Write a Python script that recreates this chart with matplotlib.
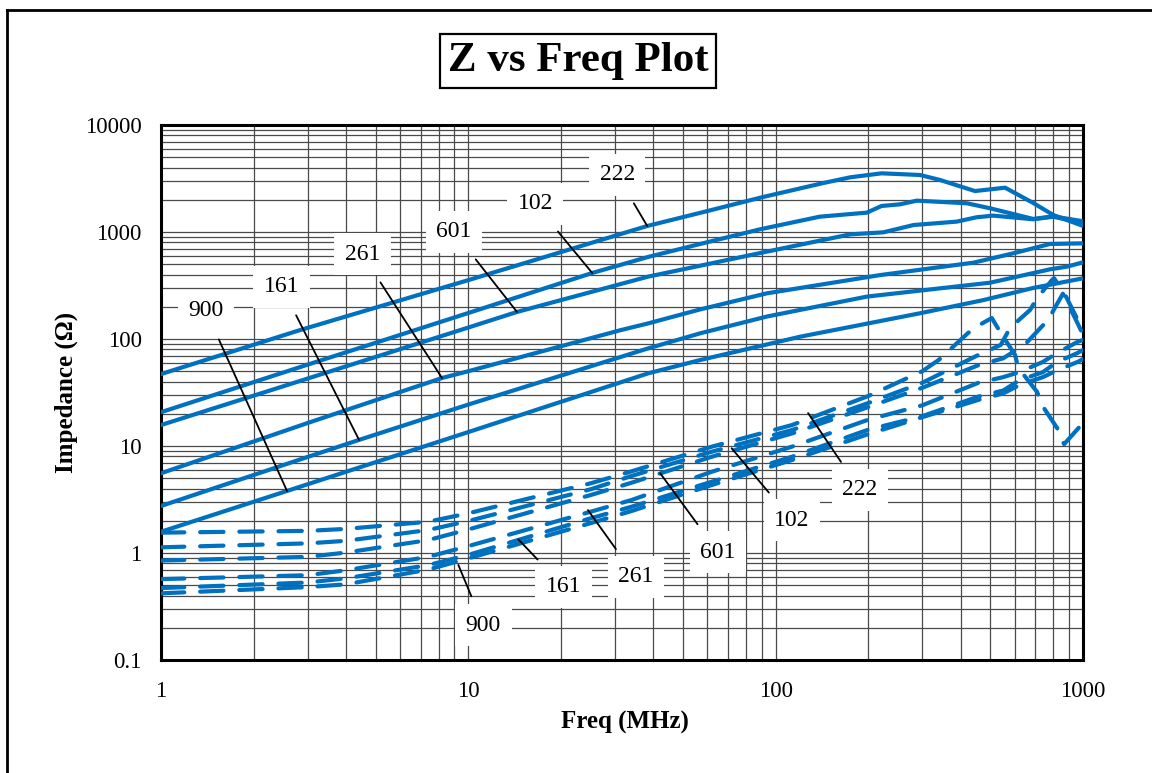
import matplotlib
matplotlib.use('Agg')
import matplotlib.pyplot as plt
from matplotlib.lines import Line2D
from matplotlib.ticker import FixedLocator, LogLocator, NullFormatter

plt.rcParams['font.family'] = ['Liberation Serif', 'DejaVu Serif']

# impedance |Z| (solid), MHz -> ohm
freq_222 = [1, 2.83, 10, 38.2, 56.8, 91, 143, 175, 221, 295, 343, 445, 558, 689, 800, 1000]
z_222 = [47, 121, 355, 1138, 1510, 2124, 2870, 3245, 3535, 3410, 3060, 2415, 2595, 1866, 1442, 1140]
freq_102 = [1, 3, 10, 25.3, 38.5, 56.8, 89, 139, 198, 221, 254, 288, 419, 499, 689, 800, 1000]
z_102 = [20.7, 57.6, 175, 414, 585, 773, 1060, 1390, 1517, 1750, 1815, 1963, 1855, 1665, 1324, 1400, 1260]
freq_601 = [1, 3, 10, 14.4, 38.5, 56.8, 93.5, 175, 224, 281, 388, 451, 511, 689, 800, 1000]
z_601 = [15.7, 42.7, 128, 179, 383, 484, 655, 951, 993, 1162, 1250, 1374, 1422, 1315, 1390, 1210]
freq_261 = [1, 3, 8.21, 10, 31.3, 38.5, 56.8, 93.5, 219, 440, 593, 781, 1000]
z_261 = [5.56, 16.4, 43.2, 50, 121, 140, 189, 267, 396, 517, 632, 773, 783]
freq_161 = [1, 3, 4.41, 10, 38.5, 56.8, 93.5, 198, 499, 781, 885, 1000]
z_161 = [2.75, 7.9, 11.4, 24.4, 81.8, 113, 162, 249, 336, 448, 474, 521]
freq_900 = [1, 2.57, 10, 38.5, 56.8, 120, 295, 474, 689, 1000]
z_900 = [1.58, 3.8, 13.5, 47.8, 63.6, 105, 174, 231, 300, 369]

# dashed curves
freq_r222 = [1, 3, 4, 7.4, 10, 25, 34, 62, 113, 200, 300, 340, 390, 423, 470, 505,
             537, 601, 615, 709, 736, 824, 868, 1000]
z_r222 = [1.55, 1.61, 1.68, 1.96, 2.35, 4.48, 5.8, 9.86, 15.7, 29.3, 50, 64, 92, 114, 140, 157,
          117, 71, 54, 32, 24, 14.7, 10.4, 16.4]
freq_r102 = [1, 3, 4, 7.4, 10, 25, 34, 62, 113, 200, 300, 457, 540, 579, 673, 709, 793, 805, 880, 1000]
z_r102 = [1.13, 1.23, 1.30, 1.64, 1.99, 3.94, 5.25, 8.85, 14.1, 25.2, 39, 71, 88, 127, 187, 242, 356, 370, 250, 120]
freq_r601 = [1, 3, 4, 7.4, 10, 25, 34, 62, 113, 200, 300, 457, 550, 650, 770, 860, 942, 1000]
z_r601 = [0.85, 0.92, 1.01, 1.32, 1.66, 3.48, 4.54, 7.94, 13.1, 23.1, 35, 57, 66, 90, 151, 265, 157, 110]
freq_r261 = [1, 3, 4, 7.4, 10, 25, 34, 62, 113, 200, 300, 457, 550, 620, 740, 824, 960, 1000]
z_r261 = [0.57, 0.62, 0.69, 0.92, 1.16, 2.43, 3.13, 5.75, 9.86, 17.6, 24, 39, 44, 49, 61, 74, 94, 98]
freq_r161 = [1, 3, 4, 7.4, 10, 25, 34, 62, 113, 200, 300, 457, 550, 620, 740, 824, 960, 1000]
z_r161 = [0.47, 0.53, 0.58, 0.77, 0.96, 2.11, 2.71, 4.64, 7.94, 14.2, 19, 29, 33, 41, 49, 61, 74, 79]
freq_r900 = [1, 3, 4, 7.4, 10, 25, 34, 62, 113, 200, 300, 457, 550, 620, 740, 824, 960, 1000]
z_r900 = [0.42, 0.48, 0.51, 0.70, 0.89, 1.90, 2.47, 4.32, 7.4, 12.9, 18.6, 27, 31, 37, 44, 51, 61, 65]

part_names = ['222', '102', '601', '261', '161', '900']
x_ticks = [1, 10, 100, 1000]
x_tick_labels = ['1', '10', '100', '1000']
y_ticks = [0.1, 1, 10, 100, 1000, 10000]
y_tick_labels = ['0.1', '1', '10', '100', '1000', '10000']

# label text position and leader end (MHz, ohm)
solid_label_xy = [(30.5, 3410), (16.5, 1828), (8.98, 1007), (4.52, 619), (2.47, 308), (1.40, 184)]
solid_label_end = [(38.2, 1138), (25.3, 414), (14.4, 179), (8.21, 43.2), (4.41, 11.4), (2.57, 3.8)]
dash_label_xy = [(188, 3.88), (113, 2.03), (64.9, 1.02), (35.1, 0.597), (20.4, 0.484), (11.19, 0.212)]
dash_label_end = [(127.5, 20.3), (71.9, 9.52), (42.1, 5.56), (24.5, 2.52), (14.55, 1.34), (9.28, 0.773)]

blue = '#0070C0'

fig = plt.figure(figsize=(11.52, 7.73), dpi=100)
ax = fig.add_axes([161 / 1152, 1 - 660 / 773, 922 / 1152, 535 / 773])

solid = [(freq_222, z_222), (freq_102, z_102), (freq_601, z_601),
         (freq_261, z_261), (freq_161, z_161), (freq_900, z_900)]
dashed = [(freq_r222, z_r222), (freq_r102, z_r102), (freq_r601, z_r601),
          (freq_r261, z_r261), (freq_r161, z_r161), (freq_r900, z_r900)]

for f, z in solid:
    ax.plot(f, z, color=blue, lw=3, solid_capstyle='round', solid_joinstyle='round', zorder=3)
for f, z in dashed:
    ax.plot(f, z, color=blue, lw=3, ls=(0, (5.6, 3.8)), dash_capstyle='round', zorder=3)

ax.set_xscale('log')
ax.set_yscale('log')
ax.set_xlim(1, 1000)
ax.set_ylim(0.1, 10000)
ax.xaxis.set_major_locator(FixedLocator(x_ticks))
ax.yaxis.set_major_locator(FixedLocator(y_ticks))
ax.xaxis.set_minor_locator(LogLocator(base=10, subs=range(2, 10), numticks=20))
ax.yaxis.set_minor_locator(LogLocator(base=10, subs=range(2, 10), numticks=20))
ax.xaxis.set_minor_formatter(NullFormatter())
ax.yaxis.set_minor_formatter(NullFormatter())
ax.set_xticklabels(x_tick_labels)
ax.set_yticklabels(y_tick_labels)
ax.grid(which='both', color='#4a4a4a', lw=0.9)
ax.set_axisbelow(True)
ax.tick_params(which='both', length=0)
ax.tick_params(axis='x', pad=15, labelsize=16.5)
ax.tick_params(axis='y', pad=14, labelsize=16.5)
for s in ax.spines.values():
    s.set_linewidth(2.2)
    s.set_color('black')

box = dict(boxstyle='square,pad=0.45', fc='white', ec='none')
for name, txy, end in zip(part_names, solid_label_xy, solid_label_end):
    ax.annotate(name, xy=end, xytext=txy, ha='center', va='center', fontsize=17,
                bbox=box, zorder=6,
                arrowprops=dict(arrowstyle='-', color='black', lw=1.3, shrinkA=6, shrinkB=0))
for name, txy, end in zip(part_names, dash_label_xy, dash_label_end):
    ax.annotate(name, xy=end, xytext=txy, ha='center', va='center', fontsize=17,
                bbox=box, zorder=6,
                arrowprops=dict(arrowstyle='-', color='black', lw=1.3, shrinkA=6, shrinkB=0))

fig.text(578 / 1152, 1 - 61 / 773, 'Z vs Freq Plot', fontsize=31, fontweight='bold',
         ha='center', va='center',
         bbox=dict(boxstyle='square,pad=0.18', fc='white', ec='black', lw=1.6))
fig.text(66 / 1152, 1 - 392 / 773, 'Impedance (Ω)', fontsize=18, fontweight='bold',
         rotation=90, ha='center', va='center')
fig.text(625 / 1152, 1 - 722 / 773, 'Freq (MHz)', fontsize=18, fontweight='bold',
         ha='center', va='center')

# outer frame (left and top edges visible)
fig.add_artist(Line2D([7 / 1152, 7 / 1152], [0, 1 - 9.5 / 773], transform=fig.transFigure,
                      color='black', lw=2))
fig.add_artist(Line2D([7 / 1152, 1], [1 - 9.5 / 773, 1 - 9.5 / 773], transform=fig.transFigure,
                      color='black', lw=2))

fig.savefig('out.png', dpi=100)
